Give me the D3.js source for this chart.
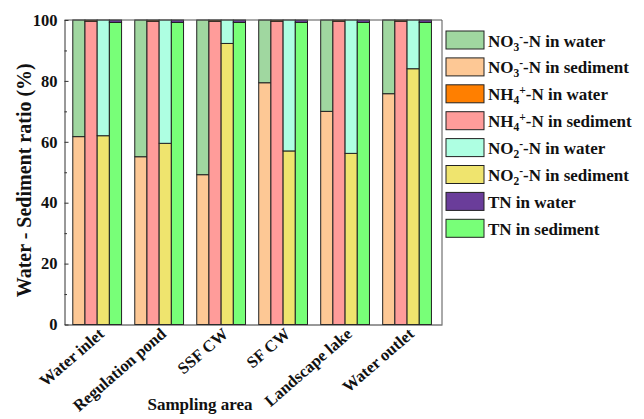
<!DOCTYPE html>
<html>
<head>
<meta charset="utf-8">
<script src="https://cdn.jsdelivr.net/npm/d3@7"></script>
<style>
  html, body { margin: 0; padding: 0; background: #fff; }
  svg { display: block; }
  text { font-family: "Liberation Serif", "Times New Roman", serif; font-weight: bold; fill: #111; }
</style>
</head>
<body>
<svg id="chart" width="644" height="419"></svg>
<script>
// Sampling sites along the treatment chain
const categories = ["Water inlet", "Regulation pond", "SSF CW", "SF CW", "Landscape lake", "Water outlet"];

// Share of each nitrogen form held in sediment vs. overlying water (%)
const no3Sediment = [61.7, 55.1, 49.2, 79.4, 70.0, 75.8];
const no3Water    = [38.3, 44.9, 50.8, 20.6, 30.0, 24.2];
const nh4Sediment = [99.6, 99.6, 99.6, 99.6, 99.6, 99.6];
const nh4Water    = [0.4, 0.4, 0.4, 0.4, 0.4, 0.4];
const no2Sediment = [62.0, 59.5, 92.3, 57.0, 56.2, 84.0];
const no2Water    = [38.0, 40.5, 7.7, 43.0, 43.8, 16.0];
const tnSediment  = [99.2, 99.2, 99.2, 99.2, 99.2, 99.2];
const tnWater     = [0.8, 0.8, 0.8, 0.8, 0.8, 0.8];

const yTicks = [0, 20, 40, 60, 80, 100];
const yMinorTicks = [10, 30, 50, 70, 90];

// One bar per nitrogen form: sediment at the base, water stacked on top
const forms = [
  { key: "NO3", sediment: no3Sediment, water: no3Water, sedColor: "#fdc895", watColor: "#a0d7a0" },
  { key: "NH4", sediment: nh4Sediment, water: nh4Water, sedColor: "#ff9c9a", watColor: "#ff7f00" },
  { key: "NO2", sediment: no2Sediment, water: no2Water, sedColor: "#efe46e", watColor: "#aeffe2" },
  { key: "TN",  sediment: tnSediment,  water: tnWater,  sedColor: "#78ff78", watColor: "#6a3d9a" }
];

// Legend entries: [base, subscript, superscript, rest, color]
const legendItems = [
  ["NO", "3", "-", "-N in water", "#a0d7a0"],
  ["NO", "3", "-", "-N in sediment", "#fdc895"],
  ["NH", "4", "+", "-N in water", "#ff7f00"],
  ["NH", "4", "+", "-N in sediment", "#ff9c9a"],
  ["NO", "2", "-", "-N in water", "#aeffe2"],
  ["NO", "2", "-", "-N in sediment", "#efe46e"],
  ["TN in water", "", "", "", "#6a3d9a"],
  ["TN in sediment", "", "", "", "#78ff78"]
];

const svg = d3.select("#chart");
const plot = { left: 64.5, right: 442, top: 20, bottom: 324.5 };

const x = d3.scaleBand()
  .domain(categories)
  .range([plot.left, plot.right])
  .paddingInner(0.213)
  .paddingOuter(0.152)
  .align(0.44);

const xForm = d3.scaleBand()
  .domain(forms.map(f => f.key))
  .range([0, x.bandwidth()])
  .padding(0);

const y = d3.scaleLinear().domain([0, 100]).range([plot.bottom, plot.top]);

// Bars
const groups = svg.append("g").selectAll("g")
  .data(categories)
  .join("g")
  .attr("transform", d => `translate(${x(d)},0)`);

groups.each(function(cat, i) {
  const g = d3.select(this);
  forms.forEach(f => {
    const s = f.sediment[i], w = f.water[i];
    const bx = xForm(f.key), bw = xForm.bandwidth();
    g.append("rect")
      .attr("x", bx).attr("width", bw)
      .attr("y", y(s)).attr("height", y(0) - y(s))
      .attr("fill", f.sedColor).attr("stroke", "#222").attr("stroke-width", 1);
    g.append("rect")
      .attr("x", bx).attr("width", bw)
      .attr("y", y(s + w)).attr("height", y(s) - y(s + w))
      .attr("fill", f.watColor).attr("stroke", "#222").attr("stroke-width", 1);
  });
});

// Frame (top and right)
svg.append("line")
  .attr("x1", plot.left).attr("x2", plot.right)
  .attr("y1", plot.top).attr("y2", plot.top)
  .attr("stroke", "#555").attr("stroke-width", 1);
svg.append("line")
  .attr("x1", plot.right).attr("x2", plot.right)
  .attr("y1", plot.top).attr("y2", plot.bottom)
  .attr("stroke", "#555").attr("stroke-width", 1);

// Y axis with inward ticks
const yAxis = svg.append("g")
  .attr("transform", `translate(${plot.left},0)`)
  .call(d3.axisLeft(y).tickValues(yTicks).tickSize(-4).tickPadding(7).tickSizeOuter(0));
yAxis.select(".domain").attr("stroke", "#333");
yAxis.selectAll(".tick line").attr("stroke", "#333");
yAxis.selectAll("text")
  .style("font-family", "'Liberation Serif', 'Times New Roman', serif")
  .style("font-weight", "bold").style("font-size", "16.5px").attr("fill", "#111");

svg.append("g")
  .attr("transform", `translate(${plot.left},0)`)
  .call(d3.axisLeft(y).tickValues(yMinorTicks).tickSize(-2.5).tickFormat("").tickSizeOuter(0))
  .call(g => g.select(".domain").remove())
  .selectAll(".tick line").attr("stroke", "#333");

// X axis line
const xAxis = svg.append("g")
  .attr("transform", `translate(0,${plot.bottom})`)
  .call(d3.axisBottom(x).tickSize(0).tickFormat(""));
xAxis.select(".domain").attr("stroke", "#333");

// Rotated category labels
svg.append("g").selectAll("text")
  .data(categories)
  .join("text")
  .attr("text-anchor", "end")
  .attr("transform", d => `translate(${x(d) + x.bandwidth() / 2 + 8},${plot.bottom + 11}) rotate(-41)`)
  .style("font-size", "16.5px")
  .text(d => d);

// Axis titles
svg.append("text")
  .attr("x", 200).attr("y", 410)
  .attr("text-anchor", "middle")
  .style("font-size", "17px")
  .text("Sampling area");

svg.append("text")
  .attr("transform", `translate(31,${(plot.top + plot.bottom) / 2 + 8}) rotate(-90)`)
  .attr("text-anchor", "middle")
  .style("font-size", "20px")
  .text("Water - Sediment ratio (%)");

// Legend
const legend = svg.append("g");
const legendStep = 26.9;
legendItems.forEach((item, i) => {
  const top = 31 + i * legendStep;
  legend.append("rect")
    .attr("x", 446).attr("y", top)
    .attr("width", 38).attr("height", 18)
    .attr("fill", item[4]).attr("stroke", "#222").attr("stroke-width", 1);
  const t = legend.append("text")
    .attr("x", 488).attr("y", top + 15.5)
    .style("font-size", "17px");
  t.append("tspan").text(item[0]);
  if (item[1]) {
    t.append("tspan").attr("dy", 4).style("font-size", "11.5px").text(item[1]);
    t.append("tspan").attr("dy", -10).style("font-size", "11.5px").text(item[2]);
    t.append("tspan").attr("dy", 6).text(item[3]);
  }
});
</script>
</body>
</html>
